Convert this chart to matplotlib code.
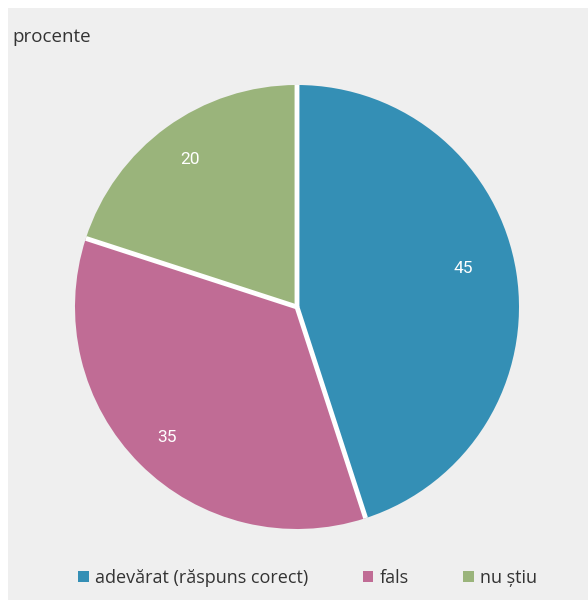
import numpy as np
import matplotlib.pyplot as plt
from matplotlib.patches import Rectangle, Patch

# data
labels = ['adevărat (răspuns corect)', 'fals', 'nu știu']
values = [45, 35, 20]
colors = ['#348fb5', '#c06c95', '#9ab47b']

fig = plt.figure(figsize=(5.88, 6), dpi=100)
fig.patch.set_facecolor('white')
fig.patches.append(Rectangle((8 / 588, 0), 1, 592 / 600, transform=fig.transFigure,
                             facecolor='#efefef', edgecolor='none', zorder=-1))

fig.text(12 / 588, 1 - 37 / 600, 'procente', fontsize=13.5, family='Open Sans',
         color='#333333', va='center', ha='left')

# pie
cx, cy, r = 297, 307, 222
ax = fig.add_axes([(cx - r) / 588, (600 - cy - r) / 600, 2 * r / 588, 2 * r / 600])
wedges, texts = ax.pie(values, colors=colors, startangle=90, counterclock=False,
                       wedgeprops=dict(edgecolor='none'))

# white separators between slices
for w in wedges:
    a = np.deg2rad(w.theta1)
    ax.plot([0, np.cos(a)], [0, np.sin(a)], color='white', lw=3.5, solid_capstyle='butt')

# value labels inside the slices
label_dist = [0.77, 0.83, 0.82]
label_shift = [4, 0, 0]
for w, v, d, s in zip(wedges, values, label_dist, label_shift):
    a = np.deg2rad((w.theta1 + w.theta2) / 2 + s)
    ax.text(d * np.cos(a), d * np.sin(a), str(v), color='white', fontsize=12.5,
            family='Roboto', ha='center', va='center')

ax.set_xlim(-1, 1)
ax.set_ylim(-1, 1)
ax.set_aspect('equal')
ax.axis('off')

handles = [Patch(facecolor=c, edgecolor='none') for c in colors]
fig.legend(handles, labels, loc='center', bbox_to_anchor=(0.523, 1 - 578 / 600), ncol=3,
           frameon=False, prop={'family': 'Open Sans', 'size': 13},
           handlelength=0.6, handleheight=0.6, handletextpad=0.35, columnspacing=3.0,
           labelcolor='#333333')

fig.savefig('out.png', dpi=100)
